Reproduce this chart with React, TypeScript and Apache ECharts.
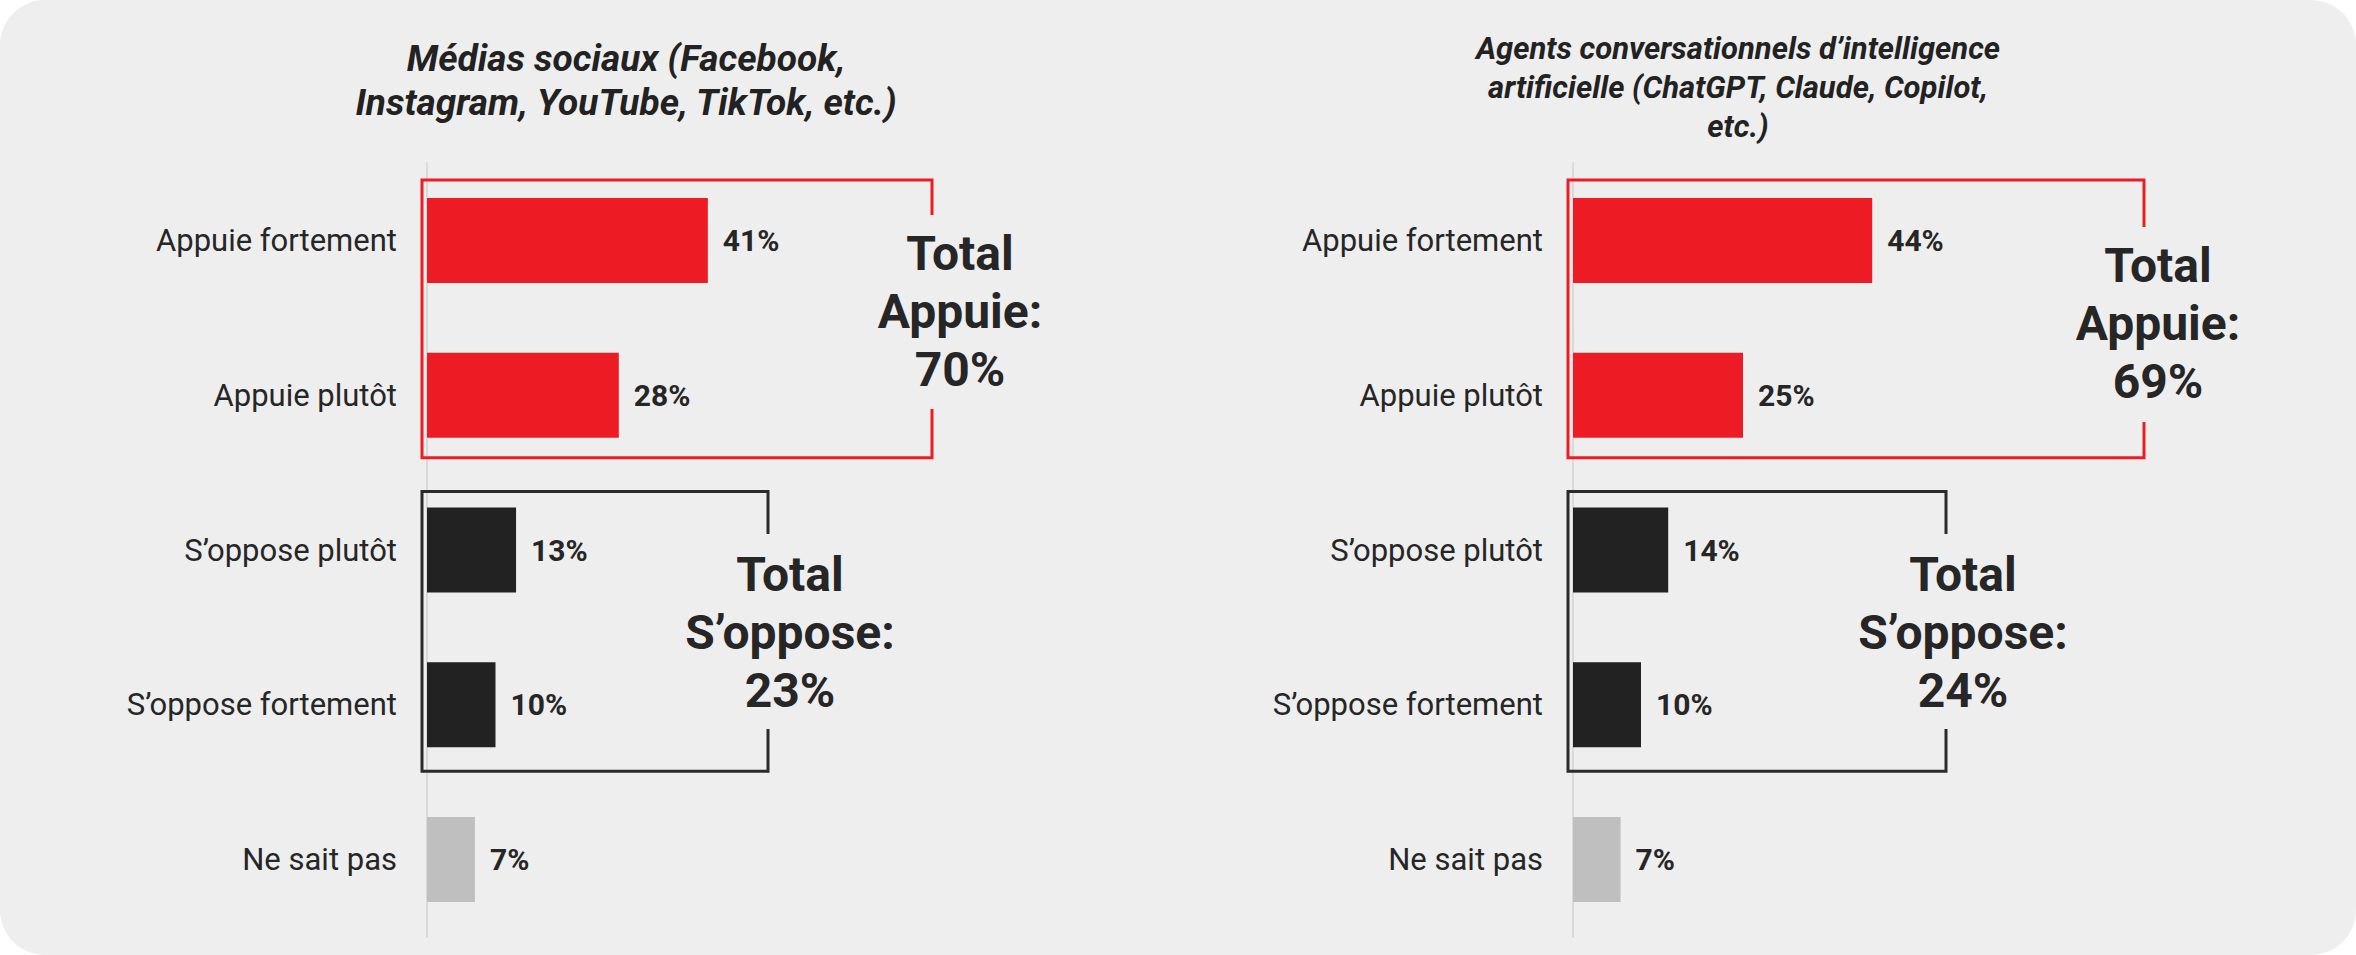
import { useEffect, useRef } from "react";
import * as echarts from "echarts";

const categories = [
  "Appuie fortement",
  "Appuie plutôt",
  "S’oppose plutôt",
  "S’oppose fortement",
  "Ne sait pas",
];
const socialValues = [41, 28, 13, 10, 7];
const aiValues = [44, 25, 14, 10, 7];
const barColors = ["#ED1C24", "#ED1C24", "#222222", "#222222", "#BFBFBF"];
const panelTitles = [
  "Médias sociaux (Facebook,\nInstagram, YouTube, TikTok, etc.)",
  "Agents conversationnels d’intelligence\nartificielle (ChatGPT, Claude, Copilot,\netc.)",
];
const supportTotals = [70, 69];
const opposeTotals = [23, 24];

// layout (pixels)
const PANELS = [
  {
    left: 427, width: 685,
    titleX: 626, titleY: 80, titleSize: 37, titleLH: 44,
    redRight: 505, redTextX: 533, redGap: [215, 409], redTextY: 311,
    blackRight: 341, blackTextX: 363, blackGap: [534, 729], blackTextY: 632,
  },
  {
    left: 1573, width: 680,
    titleX: 1738, titleY: 87, titleSize: 31, titleLH: 39,
    redRight: 571, redTextX: 585, redGap: [227, 422], redTextY: 323,
    blackRight: 373, blackTextX: 390, blackGap: [534, 729], blackTextY: 632,
  },
];

const FONT = "Roboto, 'Noto Sans', sans-serif";

export default function App() {
  const ref = useRef<HTMLDivElement>(null);

  useEffect(() => {
    document.body.style.margin = "0";
    document.body.style.background = "#ffffff";
    if (!ref.current) return;
    const chart = echarts.init(ref.current, undefined, { renderer: "svg" });
    const valueSets = [socialValues, aiValues];

    const option: any = {
      animation: false,
      grid: PANELS.map((p) => ({
        left: p.left,
        width: p.width,
        top: 163,
        height: 774,
        containLabel: false,
      })),
      xAxis: PANELS.map((_, i) => ({
        type: "value",
        gridIndex: i,
        min: 0,
        max: 100,
        show: false,
        splitLine: { show: false },
      })),
      yAxis: PANELS.map((_, i) => ({
        type: "category",
        gridIndex: i,
        inverse: true,
        data: categories,
        axisLine: { show: true, lineStyle: { color: "#D9D9D9", width: 2 } },
        axisTick: { show: false },
        axisLabel: {
          margin: 30,
          fontSize: 31,
          fontFamily: FONT,
          color: "#262626",
        },
      })),
      series: valueSets.map((vals, i) => ({
        type: "bar",
        xAxisIndex: i,
        yAxisIndex: i,
        barWidth: 85,
        data: vals.map((v, k) => ({ value: v, itemStyle: { color: barColors[k] } })),
        label: {
          show: true,
          position: "right",
          distance: 15,
          formatter: "{c}%",
          fontSize: 30,
          fontWeight: "bold",
          fontFamily: FONT,
          color: "#262626",
        },
      })),
    };
    chart.setOption(option);

    const graphics: any[] = [];
    PANELS.forEach((p, i) => {
      const ax = chart.convertToPixel({ gridIndex: i }, [0, 0])[0];
      const yc = (k: number) => chart.convertToPixel({ gridIndex: i }, [0, k])[1];
      const boxL = ax - 5;
      graphics.push({
        type: "text",
        style: {
          text: panelTitles[i],
          x: p.titleX,
          y: p.titleY,
          align: "center",
          verticalAlign: "middle",
          fontSize: p.titleSize,
          fontWeight: "bold",
          fontStyle: "italic",
          fontFamily: FONT,
          lineHeight: p.titleLH,
          fill: "#222222",
        },
      });
      const rTop = yc(0) - 60.5;
      const rBot = yc(1) + 62.5;
      const rR = ax + p.redRight;
      graphics.push({
        type: "polyline",
        shape: {
          points: [
            [rR, p.redGap[0]],
            [rR, rTop],
            [boxL, rTop],
            [boxL, rBot],
            [rR, rBot],
            [rR, p.redGap[1]],
          ],
        },
        style: { stroke: "#ED1C24", lineWidth: 3, fill: null },
        z: 10,
      });
      graphics.push({
        type: "text",
        style: {
          text: `Total\nAppuie:\n${supportTotals[i]}%`,
          x: ax + p.redTextX,
          y: p.redTextY,
          align: "center",
          verticalAlign: "middle",
          fontSize: 48,
          fontWeight: "bold",
          fontFamily: FONT,
          lineHeight: 58,
          fill: "#262626",
        },
      });
      const bTop = yc(2) - 58.5;
      const bBot = yc(3) + 66.5;
      const bR = ax + p.blackRight;
      graphics.push({
        type: "polyline",
        shape: {
          points: [
            [bR, p.blackGap[0]],
            [bR, bTop],
            [boxL, bTop],
            [boxL, bBot],
            [bR, bBot],
            [bR, p.blackGap[1]],
          ],
        },
        style: { stroke: "#2B2B2B", lineWidth: 3, fill: null },
        z: 10,
      });
      graphics.push({
        type: "text",
        style: {
          text: `Total\nS’oppose:\n${opposeTotals[i]}%`,
          x: ax + p.blackTextX,
          y: p.blackTextY,
          align: "center",
          verticalAlign: "middle",
          fontSize: 48,
          fontWeight: "bold",
          fontFamily: FONT,
          lineHeight: 58,
          fill: "#262626",
        },
      });
    });
    chart.setOption({ graphic: graphics });

    return () => chart.dispose();
  }, []);

  return (
    <div
      ref={ref}
      style={{
        width: 2356,
        height: 955,
        background: "#EEEEEE",
        borderRadius: 45,
      }}
    />
  );
}
